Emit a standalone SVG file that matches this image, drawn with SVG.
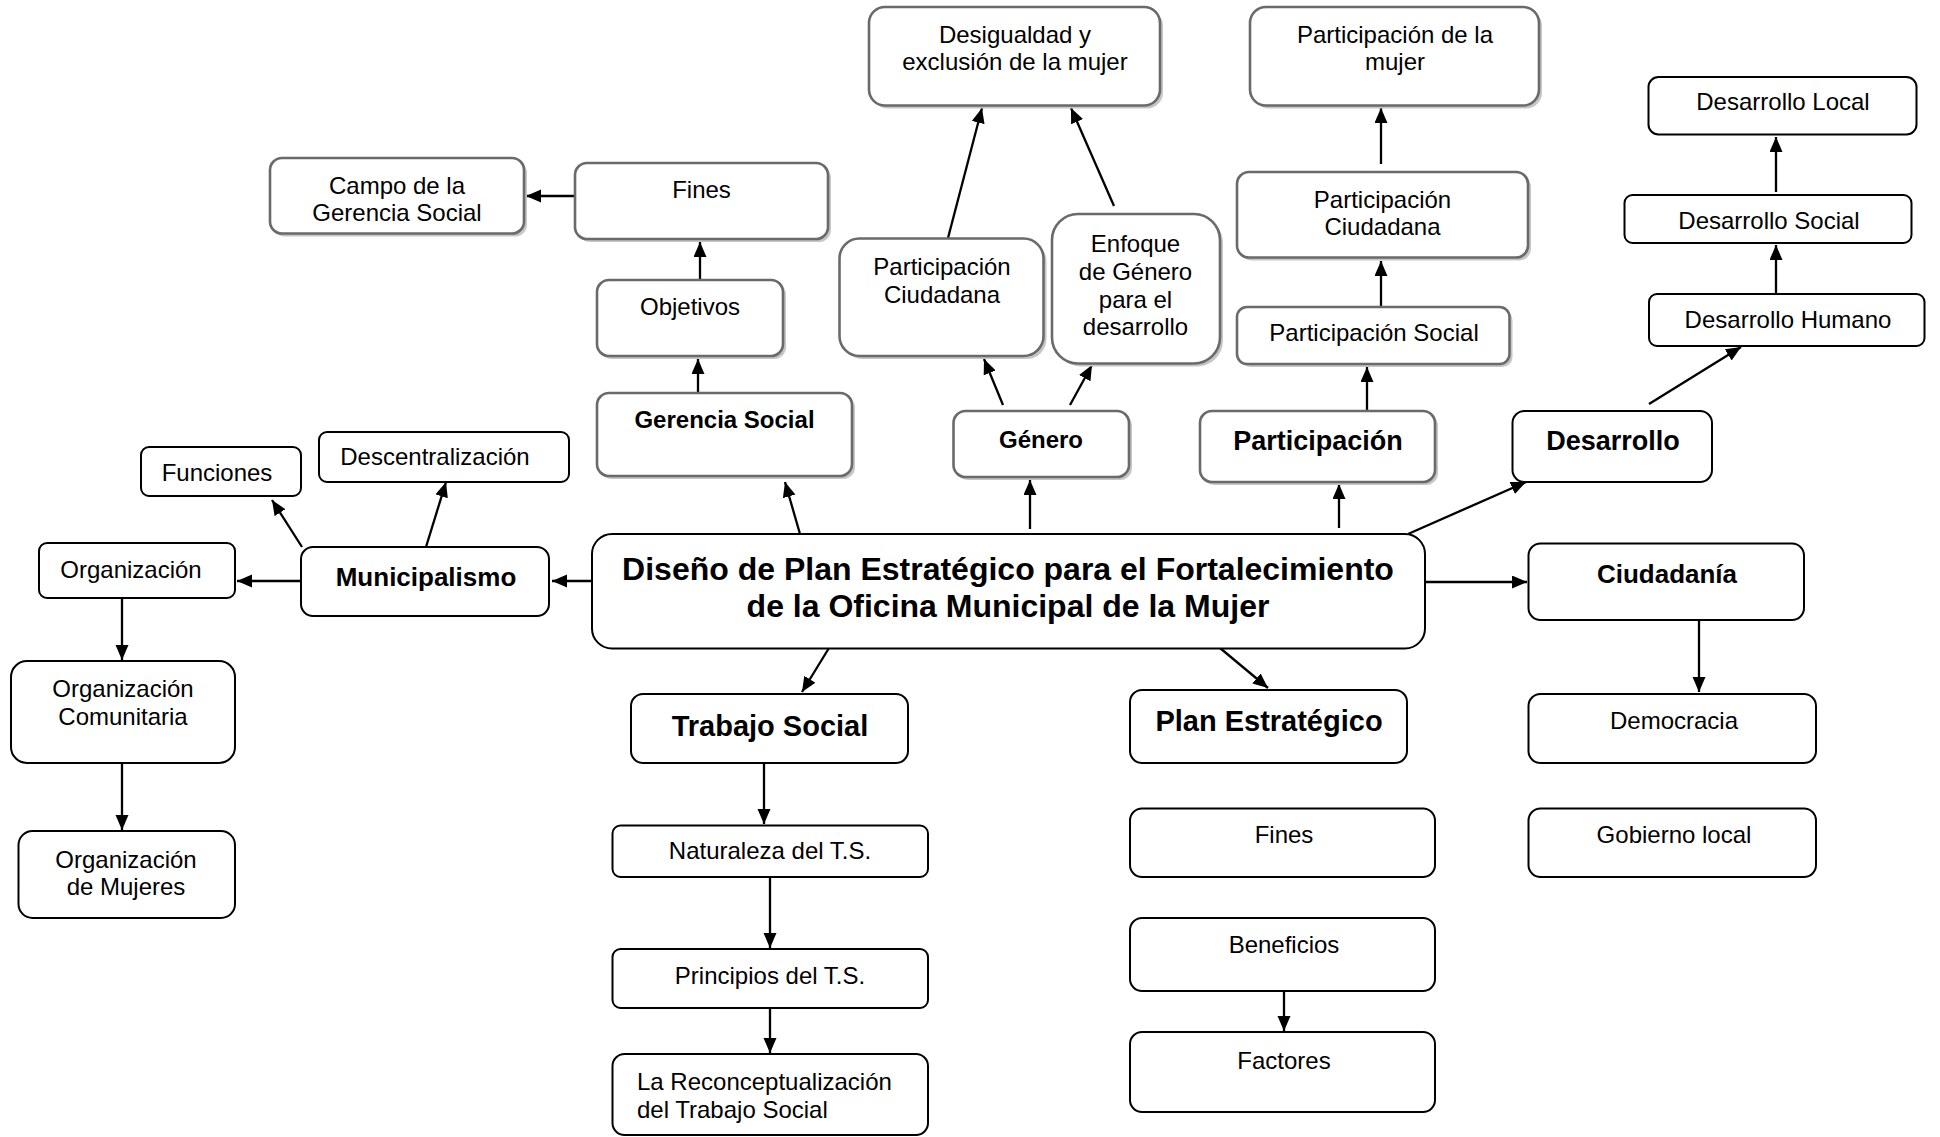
<svg xmlns="http://www.w3.org/2000/svg" width="1940" height="1137" viewBox="0 0 1940 1137">
<style>
.bx{fill:#fff;stroke:#000;stroke-width:2}
.gb{fill:#fff;stroke:#6a6a6a;stroke-width:2.6}
.sd{fill:#c6c6c6;stroke:none}
text{font-family:"Liberation Sans",Arial,sans-serif;fill:#000;text-anchor:middle}
.t{font-size:24px}
.b24{font-size:24px;font-weight:bold}
.b26{font-size:26px;font-weight:bold}
.b27{font-size:27px;font-weight:bold}
.b29{font-size:29px;font-weight:bold}
.b32{font-size:32px;font-weight:bold}
.c{fill:none;stroke:#000;stroke-width:2.3;marker-end:url(#ah)}
</style>
<defs>
<marker id="ah" markerUnits="userSpaceOnUse" markerWidth="16" markerHeight="14" refX="15" refY="6.5" orient="auto">
<path d="M0,0 L15,6.5 L0,13 z" fill="#000"/>
</marker>
</defs>
<rect width="1940" height="1137" fill="#fff"/>

<g id="connectors">
<path class="c" d="M575,196 L526,196"/>
<path class="c" d="M700,280 L700,242"/>
<path class="c" d="M698,393 L698,359"/>
<path class="c" d="M800,534 L785,482"/>
<path class="c" d="M302,547 L272,500"/>
<path class="c" d="M426,547 L446,482"/>
<path class="c" d="M592,581 L552,581"/>
<path class="c" d="M301,581 L237,581"/>
<path class="c" d="M122,598 L122,660"/>
<path class="c" d="M122,763 L122,830"/>
<path class="c" d="M829,648 L802,692"/>
<path class="c" d="M764,763 L764,824"/>
<path class="c" d="M770,877 L770,948"/>
<path class="c" d="M770,1008 L770,1053"/>
<path class="c" d="M1220,648 L1268,688"/>
<path class="c" d="M1284,991 L1284,1031"/>
<path class="c" d="M1425,582 L1527,582"/>
<path class="c" d="M1699,620 L1699,692"/>
<path class="c" d="M1408,534 L1526,482"/>
<path class="c" d="M1649,404 L1741,347"/>
<path class="c" d="M1776,293 L1776,245"/>
<path class="c" d="M1776,192 L1776,137"/>
<path class="c" d="M1339,528 L1339,484"/>
<path class="c" d="M1367,410 L1367,367"/>
<path class="c" d="M1381,306 L1381,261"/>
<path class="c" d="M1381,164 L1381,108"/>
<path class="c" d="M1030,529 L1030,480"/>
<path class="c" d="M1003,405 L984,359"/>
<path class="c" d="M1070,405 L1092,365"/>
<path class="c" d="M948,238 L982,108"/>
<path class="c" d="M1114,206 L1071,108"/>
</g>

<g id="desigualdad"><rect class="sd" x="872" y="10" width="291" height="98.5" rx="16"/><rect class="gb" x="869" y="7" width="291" height="98.5" rx="16"/><text class="t" x="1015" y="42.5">Desigualdad y</text><text class="t" x="1015" y="70">exclusión de la mujer</text></g>
<g id="participacion-mujer"><rect class="sd" x="1253" y="10" width="289" height="98.5" rx="16"/><rect class="gb" x="1250" y="7" width="289" height="98.5" rx="16"/><text class="t" x="1395" y="42.5">Participación de la</text><text class="t" x="1395" y="70">mujer</text></g>
<g id="desarrollo-local"><rect class="bx" x="1648.5" y="77" width="268" height="57.5" rx="10"/><text class="t" x="1783" y="109.5">Desarrollo Local</text></g>
<g id="campo"><rect class="sd" x="273" y="161" width="254" height="75.5" rx="12"/><rect class="gb" x="270" y="158" width="254" height="75.5" rx="12"/><text class="t" x="397" y="193.5">Campo de la</text><text class="t" x="397" y="221">Gerencia Social</text></g>
<g id="fines-gs"><rect class="sd" x="578" y="166" width="253" height="76" rx="12"/><rect class="gb" x="575" y="163" width="253" height="76" rx="12"/><text class="t" x="701.5" y="198">Fines</text></g>
<g id="participacion-ciudadana-2"><rect class="sd" x="1240" y="175" width="291" height="85.5" rx="12"/><rect class="gb" x="1237" y="172" width="291" height="85.5" rx="12"/><text class="t" x="1382.5" y="207.5">Participación</text><text class="t" x="1382.5" y="234.5">Ciudadana</text></g>
<g id="desarrollo-social"><rect class="bx" x="1624.5" y="195" width="287" height="48" rx="8"/><text class="t" x="1769" y="228.5">Desarrollo Social</text></g>
<g id="objetivos"><rect class="sd" x="600" y="283" width="186" height="76" rx="12"/><rect class="gb" x="597" y="280" width="186" height="76" rx="12"/><text class="t" x="690" y="315">Objetivos</text></g>
<g id="participacion-ciudadana-1"><rect class="sd" x="842.5" y="241.5" width="204" height="117.5" rx="20"/><rect class="gb" x="839.5" y="238.5" width="204" height="117.5" rx="20"/><text class="t" x="942" y="274.5">Participación</text><text class="t" x="942" y="302.5">Ciudadana</text></g>
<g id="enfoque"><rect class="sd" x="1055" y="217" width="168" height="149.5" rx="26"/><rect class="gb" x="1052" y="214" width="168" height="149.5" rx="26"/><text class="t" x="1135.5" y="252">Enfoque</text><text class="t" x="1135.5" y="279.5">de Género</text><text class="t" x="1135.5" y="307.5">para el</text><text class="t" x="1135.5" y="335">desarrollo</text></g>
<g id="participacion-social"><rect class="sd" x="1240" y="310" width="272.5" height="57" rx="10"/><rect class="gb" x="1237" y="307" width="272.5" height="57" rx="10"/><text class="t" x="1374" y="341">Participación Social</text></g>
<g id="desarrollo-humano"><rect class="bx" x="1649" y="294" width="275.5" height="52" rx="8"/><text class="t" x="1788" y="327.5">Desarrollo Humano</text></g>
<g id="gerencia-social"><rect class="sd" x="600" y="396" width="255" height="83" rx="12"/><rect class="gb" x="597" y="393" width="255" height="83" rx="12"/><text class="b24" x="724.5" y="428">Gerencia Social</text></g>
<g id="genero"><rect class="sd" x="956.5" y="414" width="175.5" height="66" rx="12"/><rect class="gb" x="953.5" y="411" width="175.5" height="66" rx="12"/><text class="b24" x="1041" y="447.5">Género</text></g>
<g id="participacion"><rect class="sd" x="1203" y="414" width="235" height="71" rx="12"/><rect class="gb" x="1200" y="411" width="235" height="71" rx="12"/><text class="b27" x="1318" y="450">Participación</text></g>
<g id="desarrollo"><rect class="bx" x="1512.5" y="411" width="199.5" height="71" rx="12"/><text class="b27" x="1613" y="450">Desarrollo</text></g>
<g id="funciones"><rect class="bx" x="141" y="447" width="160" height="49" rx="8"/><text class="t" x="217" y="481">Funciones</text></g>
<g id="descentralizacion"><rect class="bx" x="319" y="432" width="250" height="50" rx="8"/><text class="t" x="435" y="465">Descentralización</text></g>
<g id="organizacion"><rect class="bx" x="39" y="543" width="196" height="55" rx="8"/><text class="t" x="131" y="577.5">Organización</text></g>
<g id="municipalismo"><rect class="bx" x="301" y="547" width="248" height="69" rx="12"/><text class="b26" x="426" y="585.5">Municipalismo</text></g>
<g id="main"><rect class="bx" x="592" y="534" width="833" height="114.5" rx="20"/><text class="b32" x="1008" y="579.5">Diseño de Plan Estratégico para el Fortalecimiento</text><text class="b32" x="1008" y="616.5">de la Oficina Municipal de la Mujer</text></g>
<g id="ciudadania"><rect class="bx" x="1528.5" y="543.5" width="275.5" height="76.5" rx="12"/><text class="b26" x="1667" y="582.5">Ciudadanía</text></g>
<g id="organizacion-comunitaria"><rect class="bx" x="11" y="661" width="224" height="102" rx="16"/><text class="t" x="123" y="696.5">Organización</text><text class="t" x="123" y="725">Comunitaria</text></g>
<g id="trabajo-social"><rect class="bx" x="631" y="694" width="277" height="69" rx="12"/><text class="b29" x="770" y="735.5">Trabajo Social</text></g>
<g id="plan-estrategico"><rect class="bx" x="1130" y="690" width="277" height="73" rx="12"/><text class="b29" x="1269" y="730.5">Plan Estratégico</text></g>
<g id="democracia"><rect class="bx" x="1528.5" y="694" width="287.5" height="69" rx="12"/><text class="t" x="1674" y="728.5">Democracia</text></g>
<g id="organizacion-mujeres"><rect class="bx" x="18.5" y="831" width="216.5" height="87" rx="14"/><text class="t" x="126" y="867.5">Organización</text><text class="t" x="126" y="894.5">de Mujeres</text></g>
<g id="naturaleza"><rect class="bx" x="612.5" y="825.5" width="315.5" height="51.5" rx="8"/><text class="t" x="770" y="858.5">Naturaleza del T.S.</text></g>
<g id="fines-pe"><rect class="bx" x="1130" y="808.5" width="305" height="68.5" rx="12"/><text class="t" x="1284" y="842.5">Fines</text></g>
<g id="gobierno-local"><rect class="bx" x="1528.5" y="808.5" width="287.5" height="68.5" rx="12"/><text class="t" x="1674" y="842.5">Gobierno local</text></g>
<g id="beneficios"><rect class="bx" x="1130" y="918" width="305" height="73" rx="12"/><text class="t" x="1284" y="952.5">Beneficios</text></g>
<g id="principios"><rect class="bx" x="612.5" y="949" width="315.5" height="59" rx="8"/><text class="t" x="770" y="983.5">Principios del T.S.</text></g>
<g id="factores"><rect class="bx" x="1130" y="1032" width="305" height="80" rx="12"/><text class="t" x="1284" y="1069">Factores</text></g>
<g id="reconceptualizacion"><rect class="bx" x="612.5" y="1054" width="315.5" height="81" rx="12"/><text class="t" x="637" y="1090" style="text-anchor:start">La Reconceptualización</text><text class="t" x="637" y="1117.5" style="text-anchor:start">del Trabajo Social</text></g>
</svg>
